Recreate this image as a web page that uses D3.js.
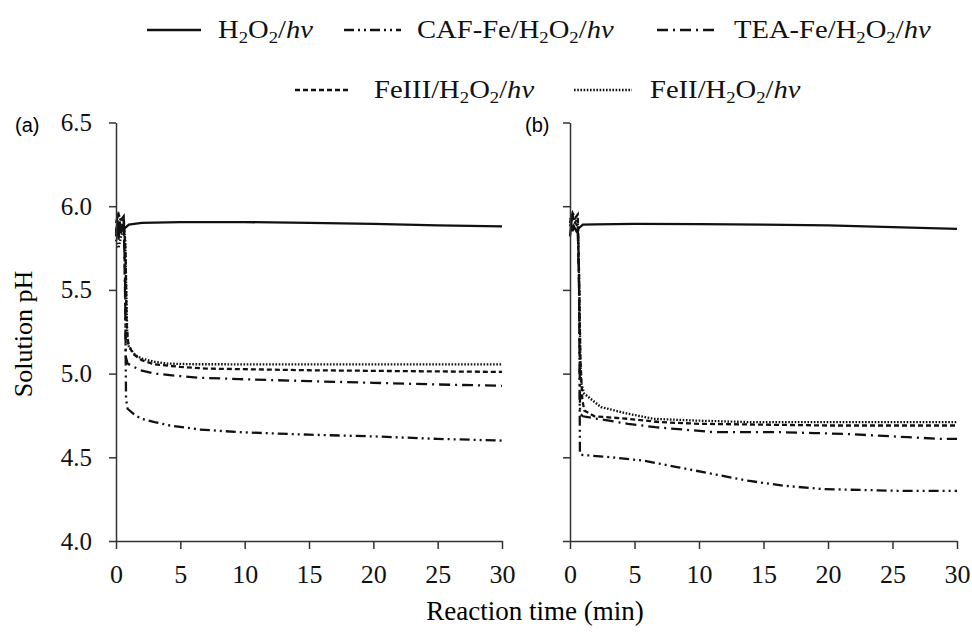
<!DOCTYPE html>
<html>
<head>
<meta charset="utf-8">
<script src="https://cdn.jsdelivr.net/npm/d3@7"></script>
<style>
  body { margin: 0; background: #fff; }
</style>
</head>
<body>
<div id="chart"></div>
<script>
const W = 972, H = 633;
const SERIF = "'Liberation Serif', 'Times New Roman', Tinos, Times, serif";

// y ticks, x ticks
const yTicks = [4.0, 4.5, 5.0, 5.5, 6.0, 6.5];
const xTicks = [0, 5, 10, 15, 20, 25, 30];

// panel (a): [time (min), pH]
const a_H2O2 = [[0,5.82],[0.1,5.9],[0.2,5.8],[0.3,5.9],[0.4,5.84],[0.5,5.88],[0.7,5.87],[1,5.89],[2,5.9],[5,5.905],[10,5.905],[15,5.9],[20,5.895],[25,5.885],[30,5.88]];
const a_CAF = [[0,5.85],[0.2,5.92],[0.4,5.88],[0.6,5.9],[0.7,5.6],[0.78,4.85],[0.9,4.79],[1.5,4.75],[2,4.73],[3,4.71],[4.2,4.69],[6.5,4.666],[9.6,4.65],[15,4.635],[20,4.625],[25,4.61],[30,4.6]];
const a_TEA = [[0,5.9],[0.2,5.96],[0.4,5.9],[0.6,5.92],[0.7,5.5],[0.76,5.1],[0.9,5.06],[1.9,5.02],[3,5.0],[5,4.985],[6.5,4.975],[9.6,4.967],[15,4.955],[20,4.945],[25,4.935],[30,4.927]];
const a_FeIII = [[0,5.84],[0.2,5.95],[0.4,5.92],[0.6,5.94],[0.75,5.7],[0.82,5.3],[0.95,5.18],[1.3,5.12],[2,5.08],[3,5.055],[5,5.04],[7,5.03],[15,5.02],[22,5.015],[30,5.01]];
const a_FeII = [[0,5.8],[0.2,5.75],[0.4,5.82],[0.6,5.88],[0.72,5.8],[0.8,5.5],[0.88,5.22],[1.0,5.16],[1.5,5.11],[2,5.09],[3,5.07],[4,5.06],[6,5.056],[15,5.055],[30,5.055]];

// panel (b)
const b_H2O2 = [[0,5.82],[0.1,5.9],[0.2,5.85],[0.3,5.88],[0.5,5.85],[0.7,5.87],[1,5.89],[2,5.892],[5,5.895],[10,5.893],[15,5.89],[20,5.885],[25,5.875],[30,5.865]];
const b_CAF = [[0,5.88],[0.2,5.93],[0.4,5.9],[0.6,5.88],[0.7,5.6],[0.77,4.52],[0.85,4.515],[3.2,4.5],[5.7,4.48],[8.4,4.44],[11.1,4.40],[13.8,4.36],[16.6,4.33],[19.6,4.31],[22.5,4.305],[25.4,4.30],[28.5,4.30],[30,4.30]];
const b_TEA = [[0,5.9],[0.2,5.94],[0.4,5.9],[0.6,5.88],[0.7,5.5],[0.78,4.76],[1,4.745],[2.1,4.73],[4.5,4.70],[6.6,4.68],[8.9,4.665],[11.2,4.65],[13.8,4.65],[16.3,4.65],[18.9,4.645],[21.2,4.64],[23.8,4.63],[26.2,4.62],[28.8,4.61],[30,4.61]];
const b_FeIII = [[0,5.9],[0.2,5.96],[0.4,5.93],[0.6,5.95],[0.7,5.6],[0.8,5.1],[0.95,4.85],[1.1,4.78],[1.9,4.745],[4.5,4.73],[7,4.71],[10,4.70],[15,4.695],[20,4.69],[30,4.69]];
const b_FeII = [[0,5.92],[0.2,5.95],[0.4,5.9],[0.6,5.93],[0.72,5.5],[0.8,5.1],[0.85,4.95],[1.1,4.88],[2.4,4.80],[4.5,4.76],[6.5,4.73],[9.5,4.72],[14,4.71],[20,4.71],[30,4.71]];

// legend labels: [text, kind] kind: n normal, s subscript, i italic
const lab_H2O2 = [['H','n'],['2','s'],['O','n'],['2','s'],['/','n'],['hv','i']];
const lab_CAF = [['CAF-Fe/H','n'],['2','s'],['O','n'],['2','s'],['/','n'],['hv','i']];
const lab_TEA = [['TEA-Fe/H','n'],['2','s'],['O','n'],['2','s'],['/','n'],['hv','i']];
const lab_FeIII = [['FeIII/H','n'],['2','s'],['O','n'],['2','s'],['/','n'],['hv','i']];
const lab_FeII = [['FeII/H','n'],['2','s'],['O','n'],['2','s'],['/','n'],['hv','i']];

const dashes = { H2O2: null, CAF: '10,4,2,4,2,4', TEA: '11,5,2,5', FeIII: '5,3', FeII: '1.6,1.6' };

const svg = d3.select('#chart').append('svg')
  .attr('width', W).attr('height', H);

const y = d3.scaleLinear().domain([4, 6.5]).range([541, 122.5]);
const panels = [
  { x: d3.scaleLinear().domain([0, 30]).range([116, 502]), labels: true, tag: '(a)', tagX: 15,
    series: [['H2O2', a_H2O2], ['CAF', a_CAF], ['TEA', a_TEA], ['FeIII', a_FeIII], ['FeII', a_FeII]] },
  { x: d3.scaleLinear().domain([0, 30]).range([570, 957]), labels: false, tag: '(b)', tagX: 525,
    series: [['H2O2', b_H2O2], ['CAF', b_CAF], ['TEA', b_TEA], ['FeIII', b_FeIII], ['FeII', b_FeII]] }
];

panels.forEach(p => {
  const g = svg.append('g');
  // curves
  p.series.forEach(([key, data]) => {
    g.append('path')
      .datum(data)
      .attr('fill', 'none')
      .attr('stroke', '#111')
      .attr('stroke-width', 2.3)
      .attr('stroke-dasharray', dashes[key])
      .attr('d', d3.line().x(d => p.x(d[0])).y(d => y(d[1])));
  });

  // y axis
  const ya = g.append('g')
    .attr('transform', `translate(${p.x(0)},0)`)
    .call(d3.axisLeft(y).tickValues(yTicks).tickSize(7).tickSizeOuter(0)
      .tickFormat(p.labels ? d3.format('.1f') : ''));
  ya.selectAll('text').style('font-size', '25px').attr('dx', -14);

  // x axis
  const xa = g.append('g')
    .attr('transform', `translate(0,${y(4)})`)
    .call(d3.axisBottom(p.x).tickValues(xTicks).tickSize(8).tickSizeOuter(0));
  xa.selectAll('text').style('font-size', '26px').attr('dy', '1.2em');

  [ya, xa].forEach(a => {
    a.select('.domain').attr('stroke', '#333').attr('stroke-width', 1.5);
    a.selectAll('.tick line').attr('stroke', '#333').attr('stroke-width', 1.5);
    a.selectAll('text').style('font-family', SERIF).attr('fill', '#111');
  });

  svg.append('text')
    .attr('x', p.tagX).attr('y', 132)
    .style('font-size', '20px')
    .style('font-family', "'Liberation Sans', Arial, sans-serif")
    .text(p.tag);
});

// axis titles
svg.append('text')
  .attr('transform', 'translate(32,334) rotate(-90)')
  .attr('text-anchor', 'middle')
  .style('font-family', SERIF).style('font-size', '26px')
  .text('Solution pH');
svg.append('text')
  .attr('x', 535).attr('y', 620)
  .attr('text-anchor', 'middle')
  .style('font-family', SERIF).style('font-size', '27px')
  .text('Reaction time (min)');

// legend
const legendItems = [
  ['H2O2', lab_H2O2, 147, 201, 218, 30],
  ['CAF', lab_CAF, 344, 401, 417, 30],
  ['TEA', lab_TEA, 657, 717, 734, 30],
  ['FeIII', lab_FeIII, 295, 350, 374, 90],
  ['FeII', lab_FeII, 574, 632, 650, 90]
];
legendItems.forEach(([key, parts, x1, x2, tx, cy]) => {
  svg.append('line')
    .attr('x1', x1).attr('x2', x2).attr('y1', cy).attr('y2', cy)
    .attr('stroke', '#111').attr('stroke-width', 2.3)
    .attr('stroke-dasharray', dashes[key]);
  const t = svg.append('text')
    .attr('transform', `translate(${tx},${cy + 8}) scale(1.1,1)`)
    .style('font-family', SERIF).style('font-size', '26px').attr('fill', '#111');
  parts.forEach(([s, k], i) => {
    const sp = t.append('tspan').text(s);
    if (k === 's') sp.style('font-size', '17px').attr('dy', 5);
    else if (i > 0 && parts[i - 1][1] === 's') sp.attr('dy', -5);
    if (k === 'i') sp.style('font-style', 'italic');
  });
});
</script>
</body>
</html>
